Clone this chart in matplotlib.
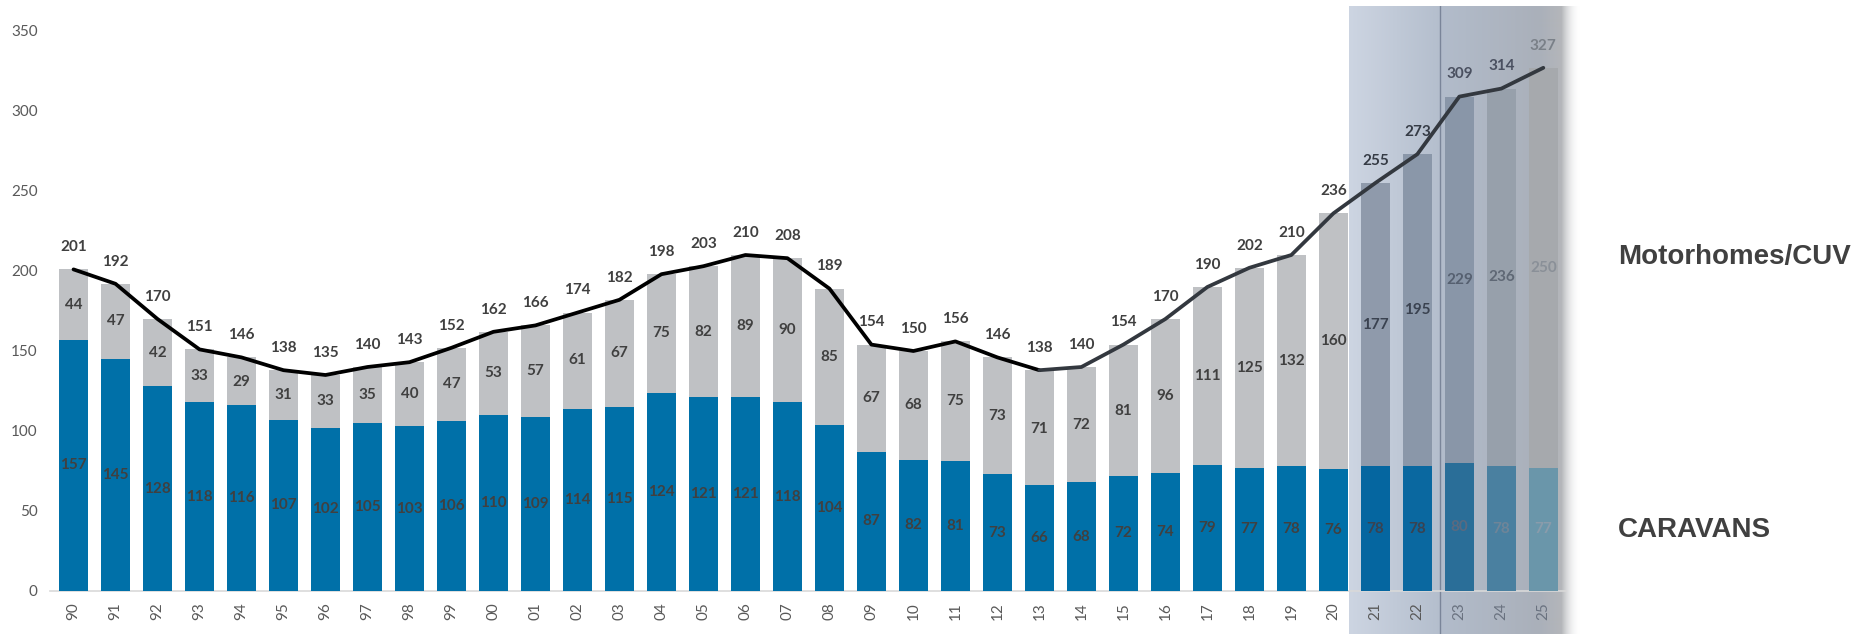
import numpy as np
import matplotlib.pyplot as plt

# years 1990 - 2025, units in thousands
years = ['90', '91', '92', '93', '94', '95', '96', '97', '98', '99',
         '00', '01', '02', '03', '04', '05', '06', '07', '08', '09',
         '10', '11', '12', '13', '14', '15', '16', '17', '18', '19',
         '20', '21', '22', '23', '24', '25']
caravans = [157, 145, 128, 118, 116, 107, 102, 105, 103, 106,
            110, 109, 114, 115, 124, 121, 121, 118, 104, 87,
            82, 81, 73, 66, 68, 72, 74, 79, 77, 78,
            76, 78, 78, 80, 78, 77]
motorhomes = [44, 47, 42, 33, 29, 31, 33, 35, 40, 47,
              53, 57, 61, 67, 75, 82, 89, 90, 85, 67,
              68, 75, 73, 71, 72, 81, 96, 111, 125, 132,
              160, 177, 195, 229, 236, 250]
totals = [201, 192, 170, 151, 146, 138, 135, 140, 143, 152,
          162, 166, 174, 182, 198, 203, 210, 208, 189, 154,
          150, 156, 146, 138, 140, 154, 170, 190, 202, 210,
          236, 255, 273, 309, 314, 327]

n = len(years)
x = np.arange(n)

# colours - the last five bars sit in the shaded forecast panel
blue = ['#0070a8'] * 31 + ['#0566a0', '#0a68a0', '#2a6e98', '#4a80a0', '#6a96aa']
grey = ['#bfc1c4'] * 31 + ['#8f9aab', '#8a97a9', '#8996a8', '#97a0ab', '#a6a9ad']
in_col = ['#404040'] * 31 + ['#3a4250', '#3a4250', '#5a6a80', '#6f8598', '#8a9cab']
mh_col = ['#404040'] * 31 + ['#3a4250', '#3a4250', '#566070', '#5f6875', '#8a9098']
tot_col = ['#404040'] * 31 + ['#353b45', '#353b45', '#4a5060', '#4a5060', '#7a8088']

W, H = 1876, 634
fig = plt.figure(figsize=(W / 100, H / 100), dpi=100)

# shaded forecast panel (drawn behind the chart)
x0, x1 = 1349, 1580
bg = fig.add_axes([x0 / W, 0, (x1 - x0) / W, (H - 6) / H])
px = np.arange(x1 - x0)
stops = [0, 91, 92, 190, 212, 231]
r = np.interp(px, stops, [205, 180, 178, 170, 180, 255])
g = np.interp(px, stops, [213, 190, 188, 176, 182, 255])
b = np.interp(px, stops, [226, 205, 203, 186, 186, 255])
a = np.interp(px, stops, [1, 1, 1, 1, 1, 0])
grad = np.stack([r / 255, g / 255, b / 255, a], axis=1)[None, :, :]
bg.imshow(grad, aspect='auto', extent=[0, 1, 0, 1], interpolation='bilinear')
bg.axvline(91 / (x1 - x0), color='#7a8599', lw=1)
bg.set_xlim(0, 1)
bg.set_ylim(0, 1)
bg.axis('off')

ax = fig.add_axes([50 / W, (H - 591) / H, (1566 - 50) / W, 560 / H])
ax.patch.set_alpha(0)

width = 0.69
ax.bar(x, totals, width, color=grey, zorder=2)
ax.bar(x, caravans, width, color=blue, zorder=3)

# total line: solid black, fading grey in the forecast years
ax.plot(x[:24], totals[:24], color='black', lw=2.7, zorder=4, solid_capstyle='round')
ax.plot(x[23:], totals[23:], color='#33383f', lw=2.7, zorder=4, solid_capstyle='round')

lab = dict(family='Lato', fontweight='bold', fontsize=11, ha='center', va='center', zorder=5)
for i in range(n):
    ax.text(x[i], caravans[i] / 2, str(caravans[i]), color=in_col[i], **lab)
    ax.text(x[i], caravans[i] + motorhomes[i] / 2, str(motorhomes[i]), color=mh_col[i], **lab)
    ax.annotate(str(totals[i]), (x[i], totals[i]), xytext=(0, 16), textcoords='offset points',
                color=tot_col[i], **lab)

ax.set_xlim(-0.56, 35.54)
ax.set_ylim(0, 350)
ax.set_yticks(range(0, 351, 50))
ax.set_xticks(x)
ax.set_xticklabels(years, rotation=90, family='Lato', fontsize=11, color='#595959')
ax.tick_params(axis='y', length=0, pad=9, labelsize=11, labelcolor='#595959')
ax.tick_params(axis='x', length=0, pad=8)
for lbl in ax.get_yticklabels():
    lbl.set_family('Lato')
for i, lbl in enumerate(ax.get_xticklabels()):
    if i >= 33:
        lbl.set_color('#6a7280')

for s in ['top', 'right', 'left']:
    ax.spines[s].set_visible(False)
ax.spines['bottom'].set_color('#d9d9d9')
ax.spines['bottom'].set_linewidth(1.2)

# series names on the right
fig.text(1618 / W, 1 - 257 / H, 'Motorhomes/CUV', family='Liberation Sans', fontweight='bold',
         fontsize=20, color='#404040', va='center', ha='left')
fig.text(1618 / W, 1 - 530 / H, 'CARAVANS', family='Liberation Sans', fontweight='bold',
         fontsize=20, color='#404040', va='center', ha='left')

fig.savefig('out.png', dpi=100)
